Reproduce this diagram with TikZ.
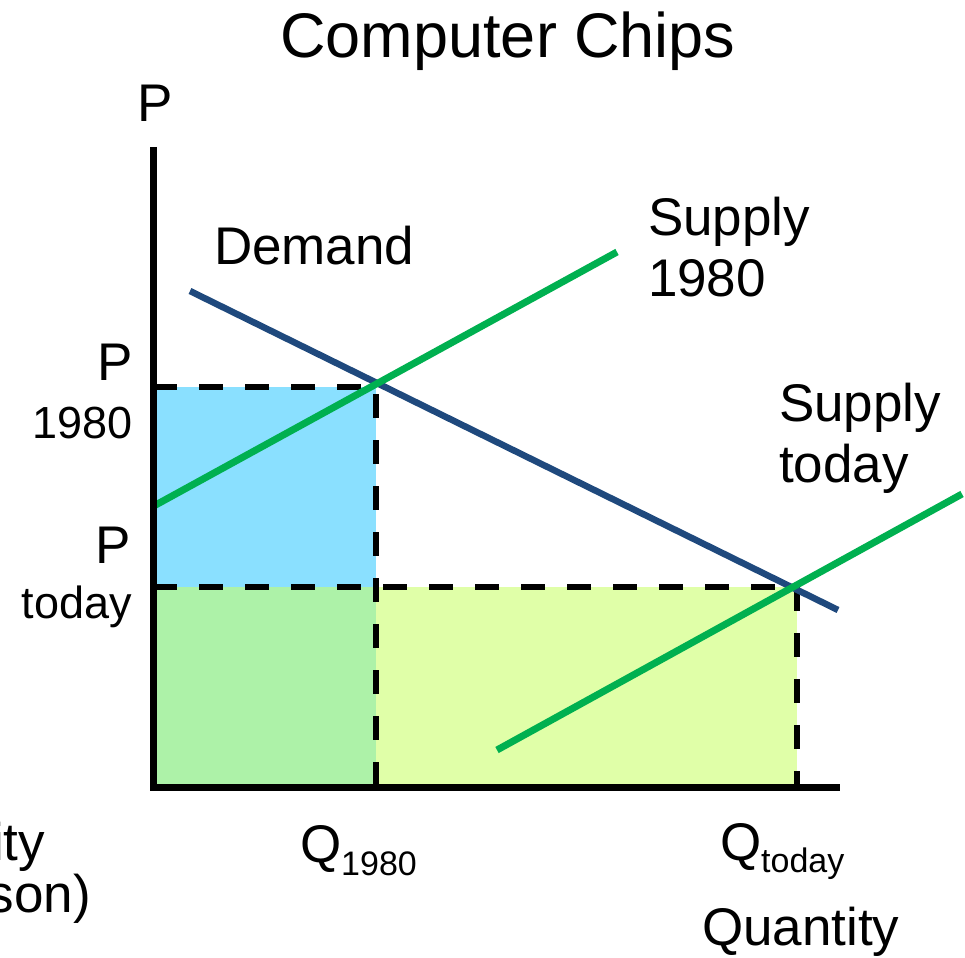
\documentclass[tikz,border=0pt]{standalone}
\usepackage{fontspec}
\setmainfont{Liberation Sans}
\definecolor{fillblue}{RGB}{138,224,255}
\definecolor{fillgreen}{RGB}{173,242,168}
\definecolor{fillyellow}{RGB}{224,255,168}
\definecolor{demandblue}{RGB}{31,73,125}
\definecolor{supplygreen}{RGB}{0,176,80}
\newcommand{\bigf}{\fontsize{53}{61}\selectfont}
\newcommand{\midf}{\fontsize{45}{50}\selectfont}
\newcommand{\subf}{\fontsize{34}{34}\selectfont}
\begin{document}
\begin{tikzpicture}[x=1pt,y=-1pt,
  lbl/.style={inner sep=0pt,outer sep=0pt,font=\bigf},
  smalllbl/.style={inner sep=0pt,outer sep=0pt,font=\midf},
  axisline/.style={line width=7pt,black},
  guide/.style={line width=6pt,black,dash pattern=on 24pt off 22pt},
  demandline/.style={line width=6.5pt,demandblue},
  supplyline/.style={line width=7pt,supplygreen}]
\useasboundingbox (0,0) rectangle (965,957);
% coordinates
\coordinate (O) at (153,787);
\coordinate (Ytop) at (153,147);
\coordinate (Xend) at (840,787);
\coordinate (P80) at (153,387);
\coordinate (PT) at (153,587);
\coordinate (E80) at (376,387);
\coordinate (ET) at (797,587);
\coordinate (Q80) at (376,787);
\coordinate (QT) at (797,787);
\coordinate (QTy) at (376,587);
\coordinate (D1) at (190,291);
\coordinate (D2) at (838,610);
\coordinate (S1a) at (152,507);
\coordinate (S1b) at (617,252);
\coordinate (S2a) at (497,750);
\coordinate (S2b) at (962,494);
% fills
\fill[fillblue] (P80) rectangle (QTy);
\fill[fillgreen] (PT) rectangle (Q80);
\fill[fillyellow] (QTy) rectangle (QT);
% guides
\draw[guide] (P80) -- (E80) -- (Q80);
\draw[guide] (PT) -- (ET) -- (QT);
% curves
\draw[demandline] (D1) -- (D2);
\draw[supplyline] (S1a) -- (S1b);
\draw[supplyline] (S2a) -- (S2b);
% axes
\draw[axisline] (Ytop) -- (O) -- (Xend);
% labels
\node[inner sep=0pt,font=\fontsize{63}{63}\selectfont,anchor=base] (title) at (508,58) {Computer Chips};
\node[lbl,anchor=base west] (plabel) at (137,122) {P};
\node[lbl,anchor=base west] (demand) at (214,265) {Demand};
\node[lbl,anchor=north west,align=left] (sup80) at (648,197) {Supply\\1980};
\node[lbl,anchor=north west,align=left] (suptd) at (779,383) {Supply\\today};
\node[lbl,anchor=base east] (p80) at (133,380) {P};
\node[smalllbl,anchor=base east] (p80y) at (133,438) {1980};
\node[lbl,anchor=base east] (ptd) at (131,563) {P};
\node[smalllbl,anchor=base east] (ptdy) at (132,618) {today};
\node[lbl,anchor=base west] (q80) at (300,862) {Q\raisebox{-13pt}{\subf 1980}};
\node[lbl,anchor=base west] (qtd) at (720,860) {Q\raisebox{-12pt}{\subf today}};
\node[lbl,anchor=base west] (qty) at (702,945) {Quantity};
\node[lbl,anchor=base east] (ity) at (45,860) {ity};
\node[lbl,anchor=base east] (son) at (91,912) {son)};
\end{tikzpicture}
\end{document}
